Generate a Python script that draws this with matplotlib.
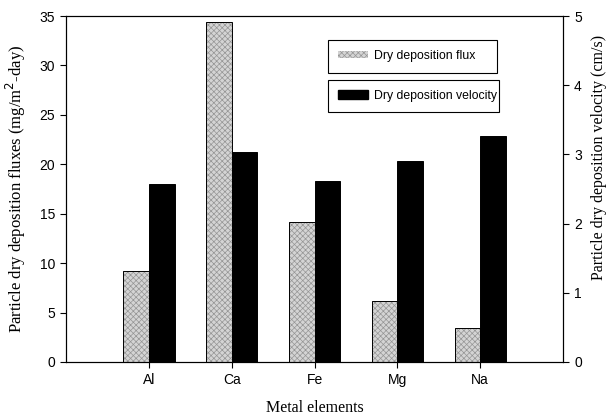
import matplotlib.pyplot as plt
import numpy as np
from matplotlib.patches import Patch

elements = ["Al", "Ca", "Fe", "Mg", "Na"]
flux = [9.25, 34.4, 14.2, 6.2, 3.4]  # mg/m2-day
velocity = [2.57, 3.04, 2.61, 2.91, 3.26]  # cm/s

plt.rcParams["hatch.linewidth"] = 0.5

fig = plt.figure(figsize=(6.08, 4.17), dpi=100)
ax = fig.add_axes([0.1086, 0.1319, 0.8174, 0.8297])
ax2 = ax.twinx()

x = np.arange(1, len(elements) + 1)
w = 0.31
# stipple fill, then a plain black outline on top
ax.bar(x - w / 2, flux, w, facecolor="#d4d4d4", edgecolor="#959595",
       linewidth=0, hatch="xxxxxx")
ax.bar(x - w / 2, flux, w, facecolor="none", edgecolor="black", linewidth=0.7)
ax2.bar(x + w / 2, velocity, w, facecolor="black", edgecolor="black",
        linewidth=0.7)

ax.set_xlim(0, 6)
ax.set_ylim(0, 35)
ax2.set_ylim(0, 5)
ax.set_xticks(x)
ax.set_xticklabels(elements)
ax.set_yticks(range(0, 36, 5))
ax2.set_yticks(range(0, 6))

for a in (ax, ax2):
    a.tick_params(direction="out", length=4.5, width=0.8, labelsize=10, pad=3.5)
    for lab in a.get_xticklabels() + a.get_yticklabels():
        lab.set_fontfamily("Liberation Sans")
    for s in a.spines.values():
        s.set_linewidth(0.8)

ax.set_xlabel("Metal elements", family="Liberation Serif", fontsize=11.5, labelpad=9)
ax.set_ylabel("Particle dry deposition fluxes (mg/m$^2$-day)",
              family="Liberation Serif", fontsize=12, labelpad=8)
ax2.set_ylabel("Particle dry deposition velocity (cm/s)",
               family="Liberation Serif", fontsize=11.5)
ax2.yaxis.set_label_coords(1.057, 0.59)

leg_kw = dict(loc="upper left", mode="expand", borderaxespad=0, fancybox=False,
              edgecolor="black", framealpha=1,
              prop={"family": "Liberation Sans", "size": 8.8},
              borderpad=0.85, handlelength=2.45, handletextpad=0.5)
leg1 = ax2.legend(handles=[Patch(facecolor="#d4d4d4", edgecolor="#959595",
                                 linewidth=0, hatch="xxxxxx")],
                  labels=["Dry deposition flux"], handleheight=0.5,
                  bbox_to_anchor=(0.527, 0.835, 0.34, 0.096), **leg_kw)
leg1.get_frame().set_linewidth(0.8)
ax2.add_artist(leg1)
leg2 = ax2.legend(handles=[Patch(facecolor="black", edgecolor="black")],
                  labels=["Dry deposition velocity"], handleheight=0.8,
                  bbox_to_anchor=(0.527, 0.72, 0.344, 0.096), **leg_kw)
leg2.get_frame().set_linewidth(0.8)

fig.savefig("out.png", dpi=100)
